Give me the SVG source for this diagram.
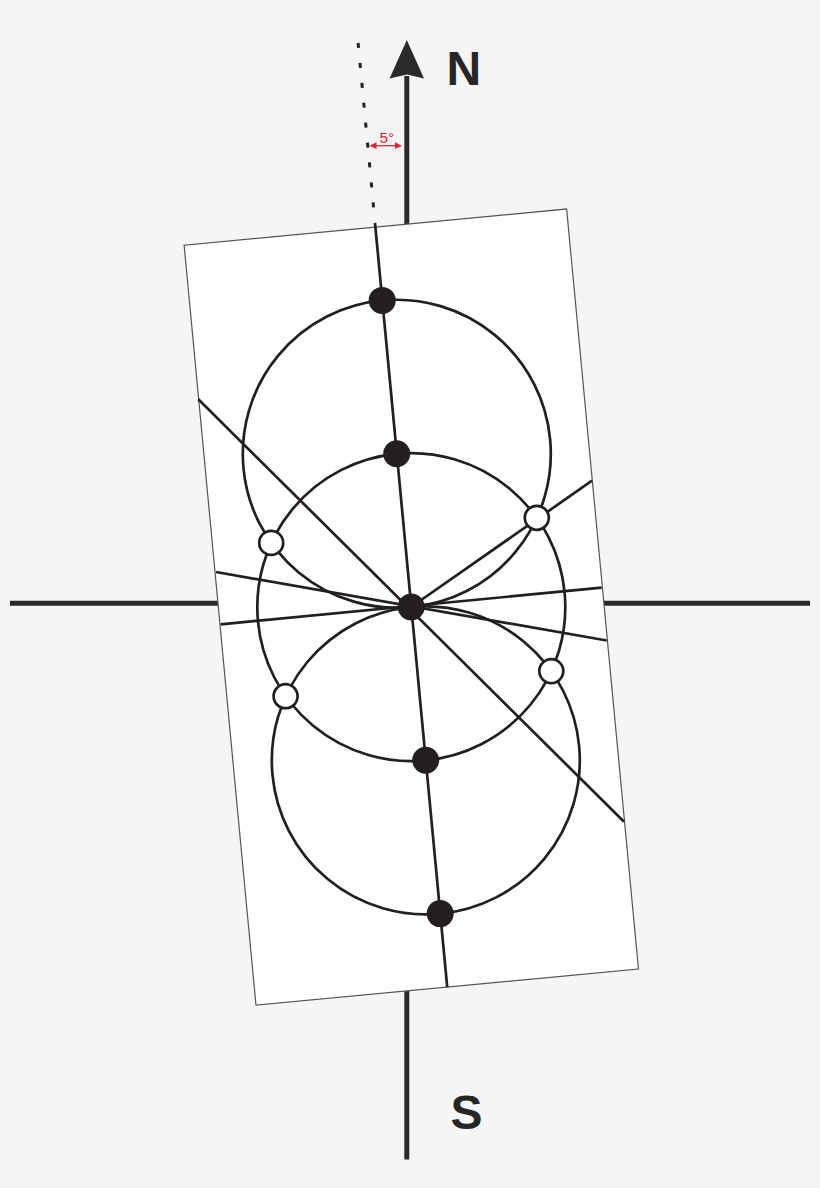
<svg xmlns="http://www.w3.org/2000/svg" width="820" height="1188" viewBox="0 0 820 1188">
  <defs>
    <style>
      .axis { stroke: #2a2a2a; stroke-width: 5; fill: none; }
      .thin { stroke: #231f20; stroke-width: 2.7; fill: none; }
      .dot { fill: #231f20; }
      .open { fill: #ffffff; stroke: #231f20; stroke-width: 2.7; }
      .lbl { font-family: "Liberation Sans", Arial, sans-serif; font-weight: bold; font-size: 48px; fill: #262626; }
      .red { fill: #e3262d; }
    </style>
  </defs>
  <rect x="0" y="0" width="820" height="1188" fill="#f5f5f5"/>

  <g id="compass">
    <line class="axis" x1="406.8" y1="76" x2="406.8" y2="225"/>
    <polygon points="406.8,40 424,78.5 406.8,74.5 389.6,78.5" fill="#2a2a2a"/>
    <line class="axis" x1="406.8" y1="990" x2="406.8" y2="1159.5"/>
    <line class="axis" x1="10" y1="603.3" x2="219" y2="603.3"/>
    <line class="axis" x1="603" y1="603.3" x2="810" y2="603.3"/>
    <text class="lbl" x="446.5" y="85">N</text>
    <text class="lbl" x="450.4" y="1129.3">S</text>
  </g>

  <g id="declination">
    <line x1="358.1" y1="43" x2="373.7" y2="208.7" stroke="#222" stroke-width="3" stroke-dasharray="5 15"/>
    <line x1="374" y1="145.7" x2="398" y2="145.7" stroke="#e3262d" stroke-width="1.3"/>
    <polygon class="red" points="369.5,145.7 376.5,142.3 376.5,149.1"/>
    <polygon class="red" points="402,145.7 395,142.3 395,149.1"/>
    <text x="379.4" y="142.7" font-family="Liberation Sans, Arial, sans-serif" font-size="15.5" fill="#e3262d">5°</text>
  </g>

  <g id="sheet" transform="translate(411.3,607.1) rotate(-5.4)">
    <rect x="-192.1" y="-381.7" width="384.2" height="763.4" fill="#ffffff" stroke="#555555" stroke-width="1.2"/>
    <circle class="thin" cx="0" cy="-154" r="154"/>
    <circle class="thin" cx="0" cy="0" r="154"/>
    <circle class="thin" cx="0" cy="154" r="154"/>
    <line class="thin" x1="0" y1="-386" x2="0" y2="381.7"/>
  </g>

  <g id="connectors">
    <line class="thin" x1="198.3" y1="399.3" x2="624" y2="821.7"/>
    <line class="thin" x1="411.2" y1="607" x2="592" y2="480.7"/>
    <line class="thin" x1="216" y1="572" x2="606.7" y2="640.5"/>
    <line class="thin" x1="220.7" y1="624.3" x2="601.7" y2="587.7"/>
  </g>

  <g id="p-n2"><circle class="dot" cx="382.2" cy="300.4" r="13.5"/></g>
  <g id="p-n1"><circle class="dot" cx="396.7" cy="453.7" r="13.5"/></g>
  <g id="p-c"><circle class="dot" cx="411.2" cy="607" r="13.5"/></g>
  <g id="p-s1"><circle class="dot" cx="425.7" cy="760.3" r="13.5"/></g>
  <g id="p-s2"><circle class="dot" cx="440.2" cy="913.6" r="13.5"/></g>

  <g id="o-ne"><circle class="open" cx="536.8" cy="517.8" r="12"/></g>
  <g id="o-nw"><circle class="open" cx="271.2" cy="542.9" r="12"/></g>
  <g id="o-sw"><circle class="open" cx="285.6" cy="696.2" r="12"/></g>
  <g id="o-se"><circle class="open" cx="551.3" cy="671.1" r="12"/></g>
</svg>
